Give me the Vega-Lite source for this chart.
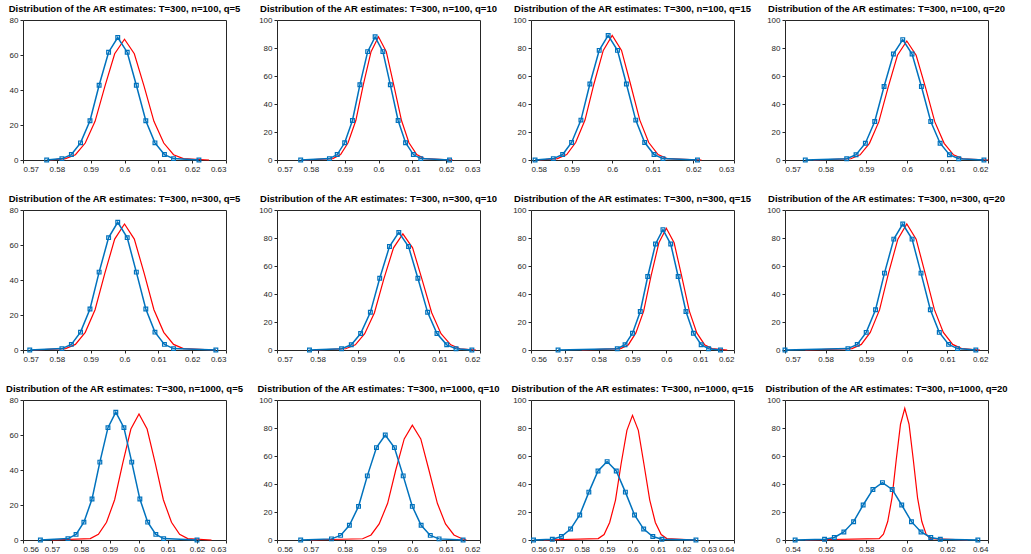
{
"$schema":"https://vega.github.io/schema/vega-lite/v6.json",
"padding":{"left":5,"top":3,"right":5,"bottom":3},
"bounds":"flush",
"config":{"view":{"stroke":"#262626"},"font":"Liberation Sans","title":{"fontSize":9.5,"fontWeight":"bold","color":"#000","offset":3},"axis":{"grid":false,"domain":false,"tickColor":"#262626","labelFontSize":8,"labelColor":"#262626","title":null,"tickSize":3,"labelPadding":2},"line":{"clip":true}},
"columns":4,
"spacing":{"row":50,"column":51},
"data":{"values":[
{"p":1,"s":"b","x":0.577,"y":0},{"p":1,"s":"b","x":0.5815,"y":0.8},{"p":1,"s":"b","x":0.5843,"y":3.1},{"p":1,"s":"b","x":0.587,"y":9.8},{"p":1,"s":"b","x":0.5898,"y":22.4},{"p":1,"s":"b","x":0.5925,"y":42.7},{"p":1,"s":"b","x":0.5953,"y":61.6},{"p":1,"s":"b","x":0.598,"y":70},{"p":1,"s":"b","x":0.6008,"y":61.6},{"p":1,"s":"b","x":0.6035,"y":42.7},{"p":1,"s":"b","x":0.6063,"y":22.4},{"p":1,"s":"b","x":0.609,"y":9.8},{"p":1,"s":"b","x":0.6118,"y":3.1},{"p":1,"s":"b","x":0.6145,"y":0.8},{"p":1,"s":"b","x":0.622,"y":0},
{"p":1,"s":"r","x":0.578,"y":0},{"p":1,"s":"r","x":0.5826,"y":0.8},{"p":1,"s":"r","x":0.5855,"y":3.0},{"p":1,"s":"r","x":0.5884,"y":9.7},{"p":1,"s":"r","x":0.5913,"y":22.1},{"p":1,"s":"r","x":0.5942,"y":42.1},{"p":1,"s":"r","x":0.5971,"y":60.7},{"p":1,"s":"r","x":0.6,"y":69},{"p":1,"s":"r","x":0.6029,"y":60.7},{"p":1,"s":"r","x":0.6058,"y":42.1},{"p":1,"s":"r","x":0.6087,"y":22.1},{"p":1,"s":"r","x":0.6116,"y":9.7},{"p":1,"s":"r","x":0.6145,"y":3.0},{"p":1,"s":"r","x":0.6174,"y":0.8},{"p":1,"s":"r","x":0.625,"y":0},
{"p":2,"s":"b","x":0.577,"y":0},{"p":2,"s":"b","x":0.5855,"y":1.0},{"p":2,"s":"b","x":0.5878,"y":3.9},{"p":2,"s":"b","x":0.59,"y":12.3},{"p":2,"s":"b","x":0.5923,"y":28.2},{"p":2,"s":"b","x":0.5945,"y":53.7},{"p":2,"s":"b","x":0.5968,"y":77.4},{"p":2,"s":"b","x":0.599,"y":88},{"p":2,"s":"b","x":0.6013,"y":77.4},{"p":2,"s":"b","x":0.6035,"y":53.7},{"p":2,"s":"b","x":0.6058,"y":28.2},{"p":2,"s":"b","x":0.608,"y":12.3},{"p":2,"s":"b","x":0.6103,"y":3.9},{"p":2,"s":"b","x":0.6125,"y":1.0},{"p":2,"s":"b","x":0.621,"y":0},
{"p":2,"s":"r","x":0.578,"y":0},{"p":2,"s":"r","x":0.5865,"y":1.0},{"p":2,"s":"r","x":0.5888,"y":3.9},{"p":2,"s":"r","x":0.591,"y":12.3},{"p":2,"s":"r","x":0.5933,"y":28.2},{"p":2,"s":"r","x":0.5955,"y":53.7},{"p":2,"s":"r","x":0.5978,"y":77.4},{"p":2,"s":"r","x":0.6,"y":88},{"p":2,"s":"r","x":0.6023,"y":77.4},{"p":2,"s":"r","x":0.6045,"y":53.7},{"p":2,"s":"r","x":0.6068,"y":28.2},{"p":2,"s":"r","x":0.609,"y":12.3},{"p":2,"s":"r","x":0.6113,"y":3.9},{"p":2,"s":"r","x":0.6135,"y":1.0},{"p":2,"s":"r","x":0.622,"y":0},
{"p":3,"s":"b","x":0.581,"y":0},{"p":3,"s":"b","x":0.5855,"y":1.0},{"p":3,"s":"b","x":0.5878,"y":3.9},{"p":3,"s":"b","x":0.59,"y":12.5},{"p":3,"s":"b","x":0.5923,"y":28.5},{"p":3,"s":"b","x":0.5945,"y":54.3},{"p":3,"s":"b","x":0.5968,"y":78.3},{"p":3,"s":"b","x":0.599,"y":89},{"p":3,"s":"b","x":0.6013,"y":78.3},{"p":3,"s":"b","x":0.6035,"y":54.3},{"p":3,"s":"b","x":0.6058,"y":28.5},{"p":3,"s":"b","x":0.608,"y":12.5},{"p":3,"s":"b","x":0.6103,"y":3.9},{"p":3,"s":"b","x":0.6125,"y":1.0},{"p":3,"s":"b","x":0.621,"y":0},
{"p":3,"s":"r","x":0.582,"y":0},{"p":3,"s":"r","x":0.5865,"y":1.0},{"p":3,"s":"r","x":0.5888,"y":3.9},{"p":3,"s":"r","x":0.591,"y":12.5},{"p":3,"s":"r","x":0.5933,"y":28.5},{"p":3,"s":"r","x":0.5955,"y":54.3},{"p":3,"s":"r","x":0.5978,"y":78.3},{"p":3,"s":"r","x":0.6,"y":89},{"p":3,"s":"r","x":0.6023,"y":78.3},{"p":3,"s":"r","x":0.6045,"y":54.3},{"p":3,"s":"r","x":0.6068,"y":28.5},{"p":3,"s":"r","x":0.609,"y":12.5},{"p":3,"s":"r","x":0.6113,"y":3.9},{"p":3,"s":"r","x":0.6135,"y":1.0},{"p":3,"s":"r","x":0.622,"y":0},
{"p":4,"s":"b","x":0.575,"y":0},{"p":4,"s":"b","x":0.5852,"y":0.9},{"p":4,"s":"b","x":0.5875,"y":3.8},{"p":4,"s":"b","x":0.5898,"y":12.0},{"p":4,"s":"b","x":0.5921,"y":27.5},{"p":4,"s":"b","x":0.5944,"y":52.5},{"p":4,"s":"b","x":0.5967,"y":75.7},{"p":4,"s":"b","x":0.599,"y":86},{"p":4,"s":"b","x":0.6013,"y":75.7},{"p":4,"s":"b","x":0.6036,"y":52.5},{"p":4,"s":"b","x":0.6059,"y":27.5},{"p":4,"s":"b","x":0.6082,"y":12.0},{"p":4,"s":"b","x":0.6105,"y":3.8},{"p":4,"s":"b","x":0.6128,"y":0.9},{"p":4,"s":"b","x":0.619,"y":0},
{"p":4,"s":"r","x":0.577,"y":0},{"p":4,"s":"r","x":0.5862,"y":0.9},{"p":4,"s":"r","x":0.5885,"y":3.7},{"p":4,"s":"r","x":0.5908,"y":11.9},{"p":4,"s":"r","x":0.5931,"y":27.2},{"p":4,"s":"r","x":0.5954,"y":51.9},{"p":4,"s":"r","x":0.5977,"y":74.8},{"p":4,"s":"r","x":0.6,"y":85},{"p":4,"s":"r","x":0.6023,"y":74.8},{"p":4,"s":"r","x":0.6046,"y":51.9},{"p":4,"s":"r","x":0.6069,"y":27.2},{"p":4,"s":"r","x":0.6092,"y":11.9},{"p":4,"s":"r","x":0.6115,"y":3.7},{"p":4,"s":"r","x":0.6138,"y":0.9},{"p":4,"s":"r","x":0.62,"y":0},
{"p":5,"s":"b","x":0.572,"y":0},{"p":5,"s":"b","x":0.5815,"y":0.8},{"p":5,"s":"b","x":0.5843,"y":3.2},{"p":5,"s":"b","x":0.587,"y":10.2},{"p":5,"s":"b","x":0.5898,"y":23.4},{"p":5,"s":"b","x":0.5925,"y":44.5},{"p":5,"s":"b","x":0.5953,"y":64.2},{"p":5,"s":"b","x":0.598,"y":73},{"p":5,"s":"b","x":0.6008,"y":64.2},{"p":5,"s":"b","x":0.6035,"y":44.5},{"p":5,"s":"b","x":0.6063,"y":23.4},{"p":5,"s":"b","x":0.609,"y":10.2},{"p":5,"s":"b","x":0.6118,"y":3.2},{"p":5,"s":"b","x":0.6145,"y":0.8},{"p":5,"s":"b","x":0.627,"y":0},
{"p":5,"s":"r","x":0.573,"y":0},{"p":5,"s":"r","x":0.5826,"y":0.8},{"p":5,"s":"r","x":0.5855,"y":3.2},{"p":5,"s":"r","x":0.5884,"y":10.1},{"p":5,"s":"r","x":0.5913,"y":23.0},{"p":5,"s":"r","x":0.5942,"y":43.9},{"p":5,"s":"r","x":0.5971,"y":63.4},{"p":5,"s":"r","x":0.6,"y":72},{"p":5,"s":"r","x":0.6029,"y":63.4},{"p":5,"s":"r","x":0.6058,"y":43.9},{"p":5,"s":"r","x":0.6087,"y":23.0},{"p":5,"s":"r","x":0.6116,"y":10.1},{"p":5,"s":"r","x":0.6145,"y":3.2},{"p":5,"s":"r","x":0.6174,"y":0.8},{"p":5,"s":"r","x":0.627,"y":0},
{"p":6,"s":"b","x":0.578,"y":0},{"p":6,"s":"b","x":0.5859,"y":0.9},{"p":6,"s":"b","x":0.5883,"y":3.7},{"p":6,"s":"b","x":0.5906,"y":11.8},{"p":6,"s":"b","x":0.593,"y":26.9},{"p":6,"s":"b","x":0.5953,"y":51.2},{"p":6,"s":"b","x":0.5977,"y":73.9},{"p":6,"s":"b","x":0.6,"y":84},{"p":6,"s":"b","x":0.6024,"y":73.9},{"p":6,"s":"b","x":0.6047,"y":51.2},{"p":6,"s":"b","x":0.6071,"y":26.9},{"p":6,"s":"b","x":0.6094,"y":11.8},{"p":6,"s":"b","x":0.6118,"y":3.7},{"p":6,"s":"b","x":0.6141,"y":0.9},{"p":6,"s":"b","x":0.618,"y":0},
{"p":6,"s":"r","x":0.579,"y":0},{"p":6,"s":"r","x":0.5869,"y":0.9},{"p":6,"s":"r","x":0.5893,"y":3.7},{"p":6,"s":"r","x":0.5916,"y":11.6},{"p":6,"s":"r","x":0.594,"y":26.6},{"p":6,"s":"r","x":0.5963,"y":50.6},{"p":6,"s":"r","x":0.5987,"y":73},{"p":6,"s":"r","x":0.601,"y":83},{"p":6,"s":"r","x":0.6034,"y":73},{"p":6,"s":"r","x":0.6057,"y":50.6},{"p":6,"s":"r","x":0.6081,"y":26.6},{"p":6,"s":"r","x":0.6104,"y":11.6},{"p":6,"s":"r","x":0.6128,"y":3.7},{"p":6,"s":"r","x":0.6151,"y":0.9},{"p":6,"s":"r","x":0.619,"y":0},
{"p":7,"s":"b","x":0.568,"y":0},{"p":7,"s":"b","x":0.5855,"y":0.9},{"p":7,"s":"b","x":0.5878,"y":3.8},{"p":7,"s":"b","x":0.59,"y":12.0},{"p":7,"s":"b","x":0.5923,"y":27.5},{"p":7,"s":"b","x":0.5945,"y":52.5},{"p":7,"s":"b","x":0.5968,"y":75.7},{"p":7,"s":"b","x":0.599,"y":86},{"p":7,"s":"b","x":0.6013,"y":75.7},{"p":7,"s":"b","x":0.6035,"y":52.5},{"p":7,"s":"b","x":0.6058,"y":27.5},{"p":7,"s":"b","x":0.608,"y":12.0},{"p":7,"s":"b","x":0.6103,"y":3.8},{"p":7,"s":"b","x":0.6125,"y":0.9},{"p":7,"s":"b","x":0.616,"y":0},
{"p":7,"s":"r","x":0.575,"y":0},{"p":7,"s":"r","x":0.5865,"y":1.0},{"p":7,"s":"r","x":0.5888,"y":3.8},{"p":7,"s":"r","x":0.591,"y":12.2},{"p":7,"s":"r","x":0.5933,"y":27.8},{"p":7,"s":"r","x":0.5955,"y":53.1},{"p":7,"s":"r","x":0.5978,"y":76.6},{"p":7,"s":"r","x":0.6,"y":87},{"p":7,"s":"r","x":0.6023,"y":76.6},{"p":7,"s":"r","x":0.6045,"y":53.1},{"p":7,"s":"r","x":0.6068,"y":27.8},{"p":7,"s":"r","x":0.609,"y":12.2},{"p":7,"s":"r","x":0.6113,"y":3.8},{"p":7,"s":"r","x":0.6135,"y":1.0},{"p":7,"s":"r","x":0.618,"y":0},
{"p":8,"s":"b","x":0.57,"y":0},{"p":8,"s":"b","x":0.5855,"y":1.0},{"p":8,"s":"b","x":0.5878,"y":4.0},{"p":8,"s":"b","x":0.59,"y":12.6},{"p":8,"s":"b","x":0.5923,"y":28.8},{"p":8,"s":"b","x":0.5945,"y":54.9},{"p":8,"s":"b","x":0.5968,"y":79.2},{"p":8,"s":"b","x":0.599,"y":90},{"p":8,"s":"b","x":0.6013,"y":79.2},{"p":8,"s":"b","x":0.6035,"y":54.9},{"p":8,"s":"b","x":0.6058,"y":28.8},{"p":8,"s":"b","x":0.608,"y":12.6},{"p":8,"s":"b","x":0.6103,"y":4.0},{"p":8,"s":"b","x":0.6125,"y":1.0},{"p":8,"s":"b","x":0.617,"y":0},
{"p":8,"s":"r","x":0.575,"y":0},{"p":8,"s":"r","x":0.5865,"y":1.0},{"p":8,"s":"r","x":0.5888,"y":4.0},{"p":8,"s":"r","x":0.591,"y":12.6},{"p":8,"s":"r","x":0.5933,"y":28.8},{"p":8,"s":"r","x":0.5955,"y":54.9},{"p":8,"s":"r","x":0.5978,"y":79.2},{"p":8,"s":"r","x":0.6,"y":90},{"p":8,"s":"r","x":0.6023,"y":79.2},{"p":8,"s":"r","x":0.6045,"y":54.9},{"p":8,"s":"r","x":0.6068,"y":28.8},{"p":8,"s":"r","x":0.609,"y":12.6},{"p":8,"s":"r","x":0.6113,"y":4.0},{"p":8,"s":"r","x":0.6135,"y":1.0},{"p":8,"s":"r","x":0.618,"y":0},
{"p":9,"s":"b","x":0.566,"y":0},{"p":9,"s":"b","x":0.5755,"y":0.8},{"p":9,"s":"b","x":0.5783,"y":3.2},{"p":9,"s":"b","x":0.581,"y":10.2},{"p":9,"s":"b","x":0.5838,"y":23.4},{"p":9,"s":"b","x":0.5865,"y":44.5},{"p":9,"s":"b","x":0.5893,"y":64.2},{"p":9,"s":"b","x":0.592,"y":73},{"p":9,"s":"b","x":0.5948,"y":64.2},{"p":9,"s":"b","x":0.5975,"y":44.5},{"p":9,"s":"b","x":0.6003,"y":23.4},{"p":9,"s":"b","x":0.603,"y":10.2},{"p":9,"s":"b","x":0.6058,"y":3.2},{"p":9,"s":"b","x":0.6085,"y":0.8},{"p":9,"s":"b","x":0.62,"y":0},
{"p":9,"s":"r","x":0.57,"y":0},{"p":9,"s":"r","x":0.5832,"y":0.8},{"p":9,"s":"r","x":0.586,"y":3.2},{"p":9,"s":"r","x":0.5888,"y":10.1},{"p":9,"s":"r","x":0.5916,"y":23.0},{"p":9,"s":"r","x":0.5944,"y":43.9},{"p":9,"s":"r","x":0.5972,"y":63.4},{"p":9,"s":"r","x":0.6,"y":72},{"p":9,"s":"r","x":0.6028,"y":63.4},{"p":9,"s":"r","x":0.6056,"y":43.9},{"p":9,"s":"r","x":0.6084,"y":23.0},{"p":9,"s":"r","x":0.6112,"y":10.1},{"p":9,"s":"r","x":0.614,"y":3.2},{"p":9,"s":"r","x":0.6168,"y":0.8},{"p":9,"s":"r","x":0.625,"y":0},
{"p":10,"s":"b","x":0.567,"y":0},{"p":10,"s":"b","x":0.5761,"y":0.8},{"p":10,"s":"b","x":0.5788,"y":3.3},{"p":10,"s":"b","x":0.5814,"y":10.5},{"p":10,"s":"b","x":0.5841,"y":24.0},{"p":10,"s":"b","x":0.5867,"y":45.8},{"p":10,"s":"b","x":0.5894,"y":66},{"p":10,"s":"b","x":0.592,"y":75},{"p":10,"s":"b","x":0.5947,"y":66},{"p":10,"s":"b","x":0.5973,"y":45.8},{"p":10,"s":"b","x":0.6,"y":24.0},{"p":10,"s":"b","x":0.6026,"y":10.5},{"p":10,"s":"b","x":0.6053,"y":3.3},{"p":10,"s":"b","x":0.6079,"y":0.8},{"p":10,"s":"b","x":0.615,"y":0},
{"p":10,"s":"r","x":0.57,"y":0},{"p":10,"s":"r","x":0.5853,"y":0.9},{"p":10,"s":"r","x":0.5878,"y":3.6},{"p":10,"s":"r","x":0.5902,"y":11.5},{"p":10,"s":"r","x":0.5927,"y":26.2},{"p":10,"s":"r","x":0.5951,"y":50},{"p":10,"s":"r","x":0.5976,"y":72.2},{"p":10,"s":"r","x":0.6,"y":82},{"p":10,"s":"r","x":0.6025,"y":72.2},{"p":10,"s":"r","x":0.6049,"y":50},{"p":10,"s":"r","x":0.6074,"y":26.2},{"p":10,"s":"r","x":0.6098,"y":11.5},{"p":10,"s":"r","x":0.6123,"y":3.6},{"p":10,"s":"r","x":0.6147,"y":0.9},{"p":10,"s":"r","x":0.616,"y":0},
{"p":11,"s":"b","x":0.561,"y":0},{"p":11,"s":"b","x":0.5684,"y":0.6},{"p":11,"s":"b","x":0.572,"y":2.5},{"p":11,"s":"b","x":0.5756,"y":7.8},{"p":11,"s":"b","x":0.5792,"y":17.9},{"p":11,"s":"b","x":0.5828,"y":34.2},{"p":11,"s":"b","x":0.5864,"y":49.3},{"p":11,"s":"b","x":0.59,"y":56},{"p":11,"s":"b","x":0.5936,"y":49.3},{"p":11,"s":"b","x":0.5972,"y":34.2},{"p":11,"s":"b","x":0.6008,"y":17.9},{"p":11,"s":"b","x":0.6044,"y":7.8},{"p":11,"s":"b","x":0.608,"y":2.5},{"p":11,"s":"b","x":0.6116,"y":0.6},{"p":11,"s":"b","x":0.625,"y":0},
{"p":11,"s":"r","x":0.565,"y":0},{"p":11,"s":"r","x":0.5865,"y":1.0},{"p":11,"s":"r","x":0.5888,"y":3.9},{"p":11,"s":"r","x":0.591,"y":12.5},{"p":11,"s":"r","x":0.5933,"y":28.5},{"p":11,"s":"r","x":0.5955,"y":54.3},{"p":11,"s":"r","x":0.5978,"y":78.3},{"p":11,"s":"r","x":0.6,"y":89},{"p":11,"s":"r","x":0.6023,"y":78.3},{"p":11,"s":"r","x":0.6045,"y":54.3},{"p":11,"s":"r","x":0.6068,"y":28.5},{"p":11,"s":"r","x":0.609,"y":12.5},{"p":11,"s":"r","x":0.6113,"y":3.9},{"p":11,"s":"r","x":0.6135,"y":1.0},{"p":11,"s":"r","x":0.625,"y":0},
{"p":12,"s":"b","x":0.545,"y":0},{"p":12,"s":"b","x":0.5595,"y":0.5},{"p":12,"s":"b","x":0.5643,"y":1.8},{"p":12,"s":"b","x":0.569,"y":5.7},{"p":12,"s":"b","x":0.5738,"y":13.1},{"p":12,"s":"b","x":0.5785,"y":25},{"p":12,"s":"b","x":0.5833,"y":36.1},{"p":12,"s":"b","x":0.588,"y":41},{"p":12,"s":"b","x":0.5928,"y":36.1},{"p":12,"s":"b","x":0.5975,"y":25},{"p":12,"s":"b","x":0.6023,"y":13.1},{"p":12,"s":"b","x":0.607,"y":5.7},{"p":12,"s":"b","x":0.6118,"y":1.8},{"p":12,"s":"b","x":0.6165,"y":0.5},{"p":12,"s":"b","x":0.635,"y":0},
{"p":12,"s":"r","x":0.55,"y":0},{"p":12,"s":"r","x":0.5864,"y":1.0},{"p":12,"s":"r","x":0.5885,"y":4.1},{"p":12,"s":"r","x":0.5906,"y":13.2},{"p":12,"s":"r","x":0.5927,"y":30.1},{"p":12,"s":"r","x":0.5948,"y":57.3},{"p":12,"s":"r","x":0.5969,"y":82.7},{"p":12,"s":"r","x":0.599,"y":94},{"p":12,"s":"r","x":0.6011,"y":82.7},{"p":12,"s":"r","x":0.6032,"y":57.3},{"p":12,"s":"r","x":0.6053,"y":30.1},{"p":12,"s":"r","x":0.6074,"y":13.2},{"p":12,"s":"r","x":0.6095,"y":4.1},{"p":12,"s":"r","x":0.6116,"y":1.0},{"p":12,"s":"r","x":0.63,"y":0}
]},
"concat":[
{"title":"Distribution of the AR estimates: T=300, n=100, q=5","width":203,"height":140,"transform":[{"filter":"datum.p==1"}],
"encoding":{"x":{"field":"x","type":"quantitative","scale":{"domain":[0.57,0.63],"nice":false},"axis":{"values":[0.57,0.58,0.59,0.6,0.61,0.62,0.63],"format":"~g"}},"y":{"field":"y","type":"quantitative","scale":{"domain":[0,80]},"axis":{"values":[0,20,40,60,80]}}},
"layer":[{"transform":[{"filter":"datum.s=='r'"}],"mark":{"type":"line","color":"#ff0000","strokeWidth":1.2}},{"transform":[{"filter":"datum.s=='b'"}],"mark":{"type":"line","color":"#0072BD","strokeWidth":1.5,"point":{"shape":"square","size":14,"filled":false,"color":"#0072BD","strokeWidth":1.2}}}]},
{"title":"Distribution of the AR estimates: T=300, n=100, q=10","width":203,"height":140,"transform":[{"filter":"datum.p==2"}],
"encoding":{"x":{"field":"x","type":"quantitative","scale":{"domain":[0.57,0.63],"nice":false},"axis":{"values":[0.57,0.58,0.59,0.6,0.61,0.62,0.63],"format":"~g"}},"y":{"field":"y","type":"quantitative","scale":{"domain":[0,100]},"axis":{"values":[0,20,40,60,80,100]}}},
"layer":[{"transform":[{"filter":"datum.s=='r'"}],"mark":{"type":"line","color":"#ff0000","strokeWidth":1.2}},{"transform":[{"filter":"datum.s=='b'"}],"mark":{"type":"line","color":"#0072BD","strokeWidth":1.5,"point":{"shape":"square","size":14,"filled":false,"color":"#0072BD","strokeWidth":1.2}}}]},
{"title":"Distribution of the AR estimates: T=300, n=100, q=15","width":203,"height":140,"transform":[{"filter":"datum.p==3"}],
"encoding":{"x":{"field":"x","type":"quantitative","scale":{"domain":[0.58,0.63],"nice":false},"axis":{"values":[0.58,0.59,0.6,0.61,0.62,0.63],"format":"~g"}},"y":{"field":"y","type":"quantitative","scale":{"domain":[0,100]},"axis":{"values":[0,20,40,60,80,100]}}},
"layer":[{"transform":[{"filter":"datum.s=='r'"}],"mark":{"type":"line","color":"#ff0000","strokeWidth":1.2}},{"transform":[{"filter":"datum.s=='b'"}],"mark":{"type":"line","color":"#0072BD","strokeWidth":1.5,"point":{"shape":"square","size":14,"filled":false,"color":"#0072BD","strokeWidth":1.2}}}]},
{"title":"Distribution of the AR estimates: T=300, n=100, q=20","width":203,"height":140,"transform":[{"filter":"datum.p==4"}],
"encoding":{"x":{"field":"x","type":"quantitative","scale":{"domain":[0.57,0.62],"nice":false},"axis":{"values":[0.57,0.58,0.59,0.6,0.61,0.62],"format":"~g"}},"y":{"field":"y","type":"quantitative","scale":{"domain":[0,100]},"axis":{"values":[0,20,40,60,80,100]}}},
"layer":[{"transform":[{"filter":"datum.s=='r'"}],"mark":{"type":"line","color":"#ff0000","strokeWidth":1.2}},{"transform":[{"filter":"datum.s=='b'"}],"mark":{"type":"line","color":"#0072BD","strokeWidth":1.5,"point":{"shape":"square","size":14,"filled":false,"color":"#0072BD","strokeWidth":1.2}}}]},
{"title":"Distribution of the AR estimates: T=300, n=300, q=5","width":203,"height":140,"transform":[{"filter":"datum.p==5"}],
"encoding":{"x":{"field":"x","type":"quantitative","scale":{"domain":[0.57,0.63],"nice":false},"axis":{"values":[0.57,0.58,0.59,0.6,0.61,0.62,0.63],"format":"~g"}},"y":{"field":"y","type":"quantitative","scale":{"domain":[0,80]},"axis":{"values":[0,20,40,60,80]}}},
"layer":[{"transform":[{"filter":"datum.s=='r'"}],"mark":{"type":"line","color":"#ff0000","strokeWidth":1.2}},{"transform":[{"filter":"datum.s=='b'"}],"mark":{"type":"line","color":"#0072BD","strokeWidth":1.5,"point":{"shape":"square","size":14,"filled":false,"color":"#0072BD","strokeWidth":1.2}}}]},
{"title":"Distribution of the AR estimates: T=300, n=300, q=10","width":203,"height":140,"transform":[{"filter":"datum.p==6"}],
"encoding":{"x":{"field":"x","type":"quantitative","scale":{"domain":[0.57,0.62],"nice":false},"axis":{"values":[0.57,0.58,0.59,0.6,0.61,0.62],"format":"~g"}},"y":{"field":"y","type":"quantitative","scale":{"domain":[0,100]},"axis":{"values":[0,20,40,60,80,100]}}},
"layer":[{"transform":[{"filter":"datum.s=='r'"}],"mark":{"type":"line","color":"#ff0000","strokeWidth":1.2}},{"transform":[{"filter":"datum.s=='b'"}],"mark":{"type":"line","color":"#0072BD","strokeWidth":1.5,"point":{"shape":"square","size":14,"filled":false,"color":"#0072BD","strokeWidth":1.2}}}]},
{"title":"Distribution of the AR estimates: T=300, n=300, q=15","width":203,"height":140,"transform":[{"filter":"datum.p==7"}],
"encoding":{"x":{"field":"x","type":"quantitative","scale":{"domain":[0.56,0.62],"nice":false},"axis":{"values":[0.56,0.57,0.58,0.59,0.6,0.61,0.62],"format":"~g"}},"y":{"field":"y","type":"quantitative","scale":{"domain":[0,100]},"axis":{"values":[0,20,40,60,80,100]}}},
"layer":[{"transform":[{"filter":"datum.s=='r'"}],"mark":{"type":"line","color":"#ff0000","strokeWidth":1.2}},{"transform":[{"filter":"datum.s=='b'"}],"mark":{"type":"line","color":"#0072BD","strokeWidth":1.5,"point":{"shape":"square","size":14,"filled":false,"color":"#0072BD","strokeWidth":1.2}}}]},
{"title":"Distribution of the AR estimates: T=300, n=300, q=20","width":203,"height":140,"transform":[{"filter":"datum.p==8"}],
"encoding":{"x":{"field":"x","type":"quantitative","scale":{"domain":[0.57,0.62],"nice":false},"axis":{"values":[0.57,0.58,0.59,0.6,0.61,0.62],"format":"~g"}},"y":{"field":"y","type":"quantitative","scale":{"domain":[0,100]},"axis":{"values":[0,20,40,60,80,100]}}},
"layer":[{"transform":[{"filter":"datum.s=='r'"}],"mark":{"type":"line","color":"#ff0000","strokeWidth":1.2}},{"transform":[{"filter":"datum.s=='b'"}],"mark":{"type":"line","color":"#0072BD","strokeWidth":1.5,"point":{"shape":"square","size":14,"filled":false,"color":"#0072BD","strokeWidth":1.2}}}]},
{"title":"Distribution of the AR estimates: T=300, n=1000, q=5","width":203,"height":140,"transform":[{"filter":"datum.p==9"}],
"encoding":{"x":{"field":"x","type":"quantitative","scale":{"domain":[0.56,0.63],"nice":false},"axis":{"values":[0.56,0.57,0.58,0.59,0.6,0.61,0.62,0.63],"format":"~g"}},"y":{"field":"y","type":"quantitative","scale":{"domain":[0,80]},"axis":{"values":[0,20,40,60,80]}}},
"layer":[{"transform":[{"filter":"datum.s=='r'"}],"mark":{"type":"line","color":"#ff0000","strokeWidth":1.2}},{"transform":[{"filter":"datum.s=='b'"}],"mark":{"type":"line","color":"#0072BD","strokeWidth":1.5,"point":{"shape":"square","size":14,"filled":false,"color":"#0072BD","strokeWidth":1.2}}}]},
{"title":"Distribution of the AR estimates: T=300, n=1000, q=10","width":203,"height":140,"transform":[{"filter":"datum.p==10"}],
"encoding":{"x":{"field":"x","type":"quantitative","scale":{"domain":[0.56,0.62],"nice":false},"axis":{"values":[0.56,0.57,0.58,0.59,0.6,0.61,0.62],"format":"~g"}},"y":{"field":"y","type":"quantitative","scale":{"domain":[0,100]},"axis":{"values":[0,20,40,60,80,100]}}},
"layer":[{"transform":[{"filter":"datum.s=='r'"}],"mark":{"type":"line","color":"#ff0000","strokeWidth":1.2}},{"transform":[{"filter":"datum.s=='b'"}],"mark":{"type":"line","color":"#0072BD","strokeWidth":1.5,"point":{"shape":"square","size":14,"filled":false,"color":"#0072BD","strokeWidth":1.2}}}]},
{"title":"Distribution of the AR estimates: T=300, n=1000, q=15","width":203,"height":140,"transform":[{"filter":"datum.p==11"}],
"encoding":{"x":{"field":"x","type":"quantitative","scale":{"domain":[0.56,0.64],"nice":false},"axis":{"values":[0.56,0.57,0.58,0.59,0.6,0.61,0.62,0.63,0.64],"format":"~g"}},"y":{"field":"y","type":"quantitative","scale":{"domain":[0,100]},"axis":{"values":[0,20,40,60,80,100]}}},
"layer":[{"transform":[{"filter":"datum.s=='r'"}],"mark":{"type":"line","color":"#ff0000","strokeWidth":1.2}},{"transform":[{"filter":"datum.s=='b'"}],"mark":{"type":"line","color":"#0072BD","strokeWidth":1.5,"point":{"shape":"square","size":14,"filled":false,"color":"#0072BD","strokeWidth":1.2}}}]},
{"title":"Distribution of the AR estimates: T=300, n=1000, q=20","width":203,"height":140,"transform":[{"filter":"datum.p==12"}],
"encoding":{"x":{"field":"x","type":"quantitative","scale":{"domain":[0.54,0.64],"nice":false},"axis":{"values":[0.54,0.56,0.58,0.6,0.62,0.64],"format":"~g"}},"y":{"field":"y","type":"quantitative","scale":{"domain":[0,100]},"axis":{"values":[0,20,40,60,80,100]}}},
"layer":[{"transform":[{"filter":"datum.s=='r'"}],"mark":{"type":"line","color":"#ff0000","strokeWidth":1.2}},{"transform":[{"filter":"datum.s=='b'"}],"mark":{"type":"line","color":"#0072BD","strokeWidth":1.5,"point":{"shape":"square","size":14,"filled":false,"color":"#0072BD","strokeWidth":1.2}}}]}
]
}
